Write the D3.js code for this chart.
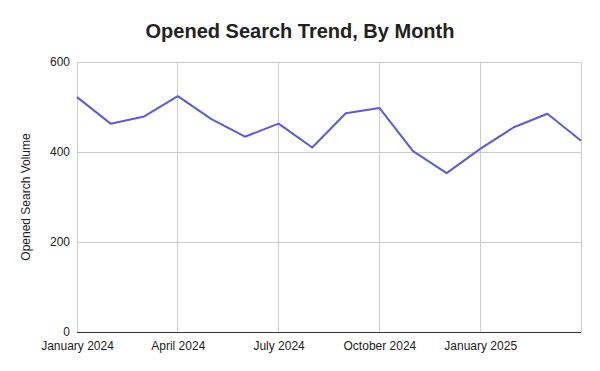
<!DOCTYPE html>
<html>
<head>
<meta charset="utf-8">
<script src="https://cdn.jsdelivr.net/npm/d3@7"></script>
<style>
  body { margin: 0; background: #fff; }
  svg { font-family: "Liberation Sans", Arial, sans-serif; }
</style>
</head>
<body>
<svg id="chart" width="600" height="371"></svg>
<script>
// Monthly data
const months = ['2024-01', '2024-02', '2024-03', '2024-04', '2024-05', '2024-06', '2024-07', '2024-08',
                '2024-09', '2024-10', '2024-11', '2024-12', '2025-01', '2025-02', '2025-03', '2025-04'];
const volumes = [522, 463, 479, 524, 473, 434, 463, 410, 486, 498, 402, 353, 407, 455, 485, 425];
const xTickLabels = { '2024-01': 'January 2024', '2024-04': 'April 2024', '2024-07': 'July 2024',
                      '2024-10': 'October 2024', '2025-01': 'January 2025' };
const yTicks = [0, 200, 400, 600];

const svg = d3.select('#chart');
const margin = { top: 62, right: 19, bottom: 39, left: 77 };
const width = 600 - margin.left - margin.right;
const height = 371 - margin.top - margin.bottom;

const g = svg.append('g').attr('transform', `translate(${margin.left},${margin.top})`);

const x = d3.scalePoint().domain(months).range([0, width]);
const y = d3.scaleLinear().domain([0, 600]).range([height, 0]);

// Horizontal gridlines
g.selectAll('.hgrid')
    .data(yTicks.filter(d => d > 0))
    .enter()
    .append('line')
    .attr('x1', 0).attr('x2', width)
    .attr('y1', d => y(d)).attr('y2', d => y(d))
    .attr('stroke', '#cccccc').attr('stroke-width', 1)
    .attr('shape-rendering', 'crispEdges');

// Vertical gridlines (every quarter plus right edge)
const vGrid = Object.keys(xTickLabels).concat([months[months.length - 1]]);
g.selectAll('.vgrid')
    .data(vGrid)
    .enter()
    .append('line')
    .attr('x1', d => x(d)).attr('x2', d => x(d))
    .attr('y1', 0).attr('y2', height)
    .attr('stroke', '#cccccc').attr('stroke-width', 1)
    .attr('shape-rendering', 'crispEdges');

// Baseline
g.append('line')
    .attr('x1', 0).attr('x2', width)
    .attr('y1', y(0)).attr('y2', y(0))
    .attr('stroke', '#333333').attr('stroke-width', 1)
    .attr('shape-rendering', 'crispEdges');

// Y axis labels
const yAxis = d3.axisLeft(y).tickValues(yTicks).tickSize(0).tickPadding(7);
g.append('g').call(yAxis)
    .call(a => a.select('.domain').remove())
    .selectAll('text')
    .attr('font-size', 12)
    .attr('font-family', '"Liberation Sans", Arial, sans-serif')
    .attr('fill', '#222');

// X axis labels
const xAxis = d3.axisBottom(x)
    .tickValues(Object.keys(xTickLabels))
    .tickFormat(d => xTickLabels[d])
    .tickSize(0).tickPadding(9);
g.append('g').attr('transform', `translate(0,${height})`).call(xAxis)
    .call(a => a.select('.domain').remove())
    .selectAll('text')
    .attr('font-size', 12)
    .attr('font-family', '"Liberation Sans", Arial, sans-serif')
    .attr('fill', '#222');

// Line
const line = d3.line()
    .x((d, i) => x(months[i]))
    .y(d => y(d));

g.append('path')
    .datum(volumes)
    .attr('fill', 'none')
    .attr('stroke', '#5b5bdb')
    .attr('stroke-width', 2)
    .attr('stroke-linejoin', 'round')
    .attr('d', line);

// Title
svg.append('text')
    .attr('x', 300).attr('y', 38)
    .attr('text-anchor', 'middle')
    .attr('font-size', 20)
    .attr('font-weight', 'bold')
    .attr('fill', '#222')
    .text('Opened Search Trend, By Month');

// Y axis title
svg.append('text')
    .attr('transform', `translate(30,${margin.top + height / 2}) rotate(-90)`)
    .attr('text-anchor', 'middle')
    .attr('font-size', 12)
    .attr('fill', '#222')
    .text('Opened Search Volume');
</script>
</body>
</html>
